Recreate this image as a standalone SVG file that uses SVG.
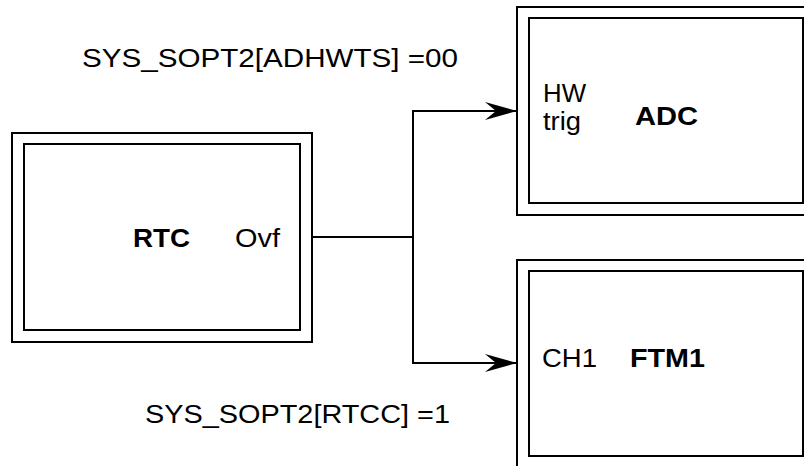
<svg xmlns="http://www.w3.org/2000/svg" width="804" height="466" viewBox="0 0 804 466">
<defs>
<style>
.box{fill:#fff;stroke:#000;stroke-width:2}
.t{font-family:"Liberation Sans",Arial,Helvetica,sans-serif;font-size:25px;fill:#000}
.b{font-weight:bold}
.c{fill:none;stroke:#000;stroke-width:2}
</style>
<marker id="ah" markerUnits="userSpaceOnUse" viewBox="0 0 32 18" refX="32" refY="9" markerWidth="32" markerHeight="18" orient="auto">
<path d="M0,0 L32,9 L0,18 L11,9 Z" fill="#000"/>
</marker>
</defs>
<rect width="804" height="466" fill="#fff"/>
<g id="rtc">
<rect class="box" x="12" y="133" width="300" height="209"/>
<rect class="box" x="24" y="144" width="276" height="186"/>
<text class="t b" x="133" y="247" textLength="57" lengthAdjust="spacingAndGlyphs">RTC</text>
<text class="t" x="235" y="247" textLength="45" lengthAdjust="spacingAndGlyphs">Ovf</text>
</g>
<g id="adc">
<rect class="box" x="517" y="7" width="300" height="208"/>
<rect class="box" x="529" y="18" width="274" height="185"/>
<text class="t" x="543" y="102" textLength="43" lengthAdjust="spacingAndGlyphs">HW</text>
<text class="t" x="543" y="130" textLength="38" lengthAdjust="spacingAndGlyphs">trig</text>
<text class="t b" x="635" y="125" textLength="63" lengthAdjust="spacingAndGlyphs">ADC</text>
</g>
<g id="ftm1">
<rect class="box" x="517" y="260" width="300" height="220"/>
<rect class="box" x="529" y="271" width="274" height="185"/>
<text class="t" x="542" y="367" textLength="55" lengthAdjust="spacingAndGlyphs">CH1</text>
<text class="t b" x="630" y="367" textLength="75" lengthAdjust="spacingAndGlyphs">FTM1</text>
</g>
<g id="connectors">
<path class="c" d="M312,237 H413 V111 H517" marker-end="url(#ah)"/>
<path class="c" d="M413,237 V363 H517" marker-end="url(#ah)"/>
</g>
<g id="labels">
<text class="t" x="82" y="67" textLength="376" lengthAdjust="spacingAndGlyphs">SYS_SOPT2[ADHWTS] =00</text>
<text class="t" x="145" y="423" textLength="305" lengthAdjust="spacingAndGlyphs">SYS_SOPT2[RTCC] =1</text>
</g>
</svg>
